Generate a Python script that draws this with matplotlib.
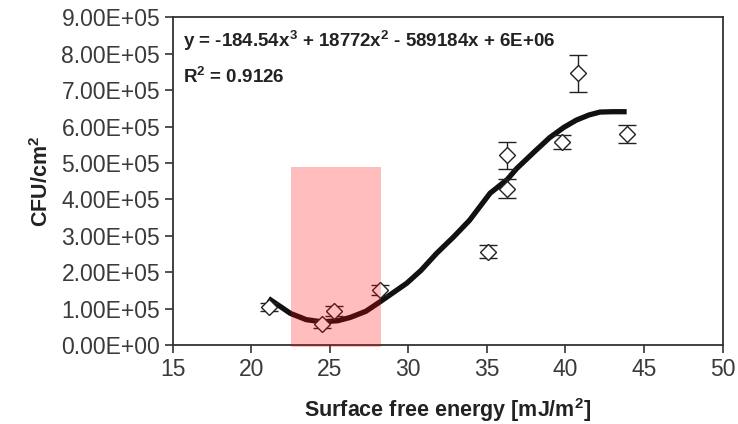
import matplotlib
matplotlib.use("Agg")
from matplotlib import pyplot as plt
from matplotlib.patches import Rectangle
from matplotlib.ticker import FuncFormatter, MultipleLocator

plt.rcParams['font.family'] = ['Liberation Sans', 'DejaVu Sans']
plt.rcParams['mathtext.fontset'] = 'custom'
plt.rcParams['mathtext.rm'] = 'Liberation Sans'
plt.rcParams['mathtext.bf'] = 'Liberation Sans:bold'

# measured points (surface free energy, CFU/cm2, error)
energy = [21.1, 24.5, 25.3, 28.2, 35.1, 36.3, 36.3, 39.8, 40.8, 43.9]
cfu = [1.05e5, 0.58e5, 0.94e5, 1.51e5, 2.56e5, 4.30e5, 5.22e5, 5.58e5, 7.46e5, 5.79e5]
cfu_err = [0.10e5, 0.10e5, 0.13e5, 0.14e5, 0.18e5, 0.27e5, 0.37e5, 0.19e5, 0.50e5, 0.25e5]

# trendline as drawn in the figure
trend_x = [21.1, 22.5, 23.5, 24.5, 25.5, 26.3, 27.3, 28.2, 29.0, 29.9, 30.8, 31.8,
           32.9, 33.9, 35.2, 36.3, 36.9, 38.0, 39.0, 39.9, 40.7, 41.5, 42.2, 43.0, 43.9]
trend_y = [1.28e5, 0.87e5, 0.70e5, 0.64e5, 0.67e5, 0.76e5, 0.93e5, 1.19e5, 1.43e5,
           1.70e5, 2.05e5, 2.52e5, 2.98e5, 3.43e5, 4.17e5, 4.55e5, 4.85e5, 5.30e5,
           5.70e5, 5.98e5, 6.18e5, 6.32e5, 6.40e5, 6.41e5, 6.41e5]

# highlighted range
band_x = [22.5, 28.25]
band_top = 4.90e5

equation = (r'y = -184.54x$^{\mathbf{3}}$ + 18772x$^{\mathbf{2}}$'
            r' - 589184x + 6E+06')
r2_text = r'R$^{\mathbf{2}}$ = 0.9126'


def sci_fmt(v, pos):
    return '%.2E' % v


def main():
    fig = plt.figure(figsize=(7.38, 4.24), dpi=100)
    ax = fig.add_axes([0.234, 0.186, 0.745, 0.773])

    ax.plot(trend_x, trend_y, color='#111111', lw=3.8, zorder=3,
            solid_capstyle='butt')
    ax.errorbar(energy, cfu, yerr=cfu_err, fmt='D', ms=8, mfc='white',
                mec='#222222', mew=1.0, ecolor='#222222', elinewidth=1.0,
                capsize=6.5, capthick=1.2, zorder=4)

    band = Rectangle((band_x[0], -0.06e5), band_x[1] - band_x[0],
                     band_top + 0.06e5, facecolor='red', alpha=0.26,
                     edgecolor='none', zorder=6, clip_on=False)
    ax.add_patch(band)

    ax.set_xlim(15, 50)
    ax.set_ylim(0, 9e5)
    ax.xaxis.set_major_locator(MultipleLocator(5))
    ax.yaxis.set_major_locator(MultipleLocator(1e5))
    ax.yaxis.set_major_formatter(FuncFormatter(sci_fmt))

    for s in ax.spines.values():
        s.set_color('#333333')
        s.set_linewidth(1.3)
    ax.tick_params(direction='out', length=6, width=1.2, color='#333333',
                   labelsize=16.5, labelcolor='#3a3a3a', pad=3)

    ax.set_xlabel('Surface free energy [mJ/m$^{\\mathbf{2}}$]', fontsize=15.5,
                  fontweight='bold', color='#222222', labelpad=11)
    ax.set_ylabel('CFU/cm$^{\\mathbf{2}}$', fontsize=15.5, fontweight='bold',
                  color='#222222', labelpad=6)

    ax.text(0.019, 0.909, equation, transform=ax.transAxes, fontsize=13.5,
            fontweight='bold', color='#222222', va='baseline')
    ax.text(0.019, 0.80, r2_text, transform=ax.transAxes, fontsize=13.5,
            fontweight='bold', color='#222222', va='baseline')

    fig.savefig('out.png', dpi=100)


if __name__ == "__main__":
    main()
